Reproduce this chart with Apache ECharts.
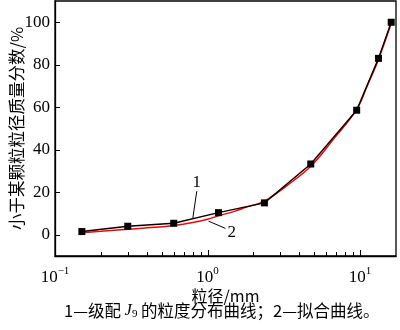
<!DOCTYPE html>
<html>
<head>
<meta charset="utf-8">
<script src="https://cdn.jsdelivr.net/npm/echarts@6/dist/echarts.min.js"></script>
<style>
  html, body { margin: 0; padding: 0; background: #fff; }
  #chart { width: 400px; height: 330px; }
</style>
</head>
<body>
<div id="chart"></div>
<script>
// Sieve sizes (mm) and cumulative passing (%) for gradation J9
const sieveSizes = [0.15, 0.3, 0.6, 1.18, 2.36, 4.75, 9.5, 13.2, 16];
const passing = [1.5, 4.0, 5.4, 10.4, 15.0, 33.3, 58.6, 83.0, 100];

// Fitted curve, sampled along the size range
const fitSizes = [0.15, 0.2, 0.3, 0.45, 0.6, 0.8, 1.0, 1.18, 1.5, 1.8, 2.36, 3.3, 4.75, 6.7, 9.5, 11.2, 13.2, 16];
const fitValues = [0.9, 1.6, 2.6, 3.5, 4.4, 5.8, 7.3, 8.9, 11.0, 13.0, 15.8, 23.0, 32.2, 45.0, 59.0, 70.5, 82.5, 99.5];

// Axis ranges and ticks
const xMin = 0.1, xMax = 17.2;
const yMin = -10, yMax = 110;
const xMajorTicks = [0.1, 1, 10];
const xMinorTicks = [0.2, 0.3, 0.4, 0.5, 0.6, 0.7, 0.8, 0.9, 2, 3, 4, 5, 6, 7, 8, 9];
const yTicks = [0, 20, 40, 60, 80, 100];

// Curve callouts: label text, label anchor, leader start, leader end (data coords)
const callouts = [
  { text: '1', at: [0.85, 24.5], from: [0.85, 20.5], to: [0.80, 7.6] },
  { text: '2', at: [1.44, 1.2], from: [1.31, 3.0], to: [1.015, 6.4] }
];

const serif = '"Liberation Serif", "Times New Roman", "Noto Sans CJK SC", serif';
const cjk = '"Noto Sans CJK SC", "Liberation Serif", serif';

const chart = echarts.init(document.getElementById('chart'), null, { renderer: 'canvas' });

const zip = (xs, ys) => xs.map((x, i) => [x, ys[i]]);

chart.setOption({
  animation: false,
  backgroundColor: '#fff',
  grid: {
    left: 55, right: 4, top: 1, bottom: 74,
    containLabel: false, outerBoundsMode: 'none',
    show: true, borderColor: '#000', borderWidth: 1.3, backgroundColor: 'transparent'
  },
  xAxis: {
    type: 'log', logBase: 10, min: xMin, max: xMax,
    name: '粒径/mm', nameLocation: 'middle', nameGap: 32, nameMoveOverlap: false,
    nameTextStyle: { fontFamily: cjk, fontSize: 16, color: '#000' },
    axisLine: { show: true, onZero: false, lineStyle: { color: '#000', width: 1.3 } },
    axisTick: { show: false },
    minorTick: { show: false },
    splitLine: { show: false },
    axisLabel: {
      customValues: xMajorTicks,
      margin: 10,
      formatter: v => {
        const e = Math.round(Math.log10(v));
        return '{b|10}{s|' + (e < 0 ? '\u2212' + (-e) : e) + '}';
      },
      rich: {
        b: { fontFamily: serif, fontSize: 17, color: '#000', verticalAlign: 'bottom', lineHeight: 20 },
        s: { fontFamily: serif, fontSize: 11, color: '#000', verticalAlign: 'top', lineHeight: 20, padding: [0, 0, 8, 0] }
      }
    }
  },
  yAxis: {
    type: 'value', min: yMin, max: yMax,
    name: '小于某颗粒粒径质量分数/%', nameLocation: 'middle', nameGap: 30, nameRotate: 90, nameMoveOverlap: false,
    nameTextStyle: { fontFamily: cjk, fontSize: 16.5, color: '#000' },
    axisLine: { show: true, onZero: false, lineStyle: { color: '#000', width: 1.3 } },
    axisTick: { show: false },
    axisLabel: { customValues: yTicks, margin: 5, fontFamily: serif, fontSize: 17, color: '#000' },
    splitLine: { show: false }
  },
  series: [
    {
      name: '2', type: 'line',
      data: zip(fitSizes, fitValues),
      smooth: 0.4, showSymbol: false, symbol: 'none',
      lineStyle: { color: '#ff0000', width: 1.5 }, z: 2
    },
    {
      name: '1', type: 'line',
      data: zip(sieveSizes, passing),
      symbol: 'rect', symbolSize: 7,
      itemStyle: { color: '#000' },
      lineStyle: { color: '#000', width: 1.4 }, z: 3
    }
  ],
  graphic: []
});

// Inward ticks, callout leaders/numbers and caption, placed from data coordinates
function placeOverlays() {
  const toPx = p => chart.convertToPixel({ xAxisIndex: 0, yAxisIndex: 0 }, p);
  const crisp = v => Math.round(v) + 0.5;
  const elements = [];
  const origin = toPx([xMin, yMin]);
  const tick = (x1, y1, x2, y2) => elements.push({
    type: 'line', silent: true, z: 10,
    shape: { x1, y1, x2, y2 },
    style: { stroke: '#000', lineWidth: 1 }
  });
  xMajorTicks.forEach(v => { const x = crisp(toPx([v, yMin])[0]); tick(x, origin[1], x, origin[1] - 6); });
  xMinorTicks.forEach(v => { const x = crisp(toPx([v, yMin])[0]); tick(x, origin[1], x, origin[1] - 4); });
  yTicks.forEach(v => { const y = crisp(toPx([xMin, v])[1]); tick(origin[0], y, origin[0] + 5, y); });

  callouts.forEach(c => {
    const a = toPx(c.from), b = toPx(c.to), t = toPx(c.at);
    elements.push({
      type: 'line', silent: true,
      shape: { x1: a[0], y1: a[1], x2: b[0], y2: b[1] },
      style: { stroke: '#000', lineWidth: 1 }
    });
    elements.push({
      type: 'text', silent: true, x: t[0], y: t[1],
      style: { text: c.text, fontFamily: serif, fontSize: 17, fill: '#000', align: 'center', verticalAlign: 'middle' }
    });
  });
  // Caption under the axis title
  elements.push({
    type: 'text', silent: true, left: 64, top: 302,
    style: {
      text: '{t|1—级配 }{j|J}{sub|9}{t| 的粒度分布曲线；2—拟合曲线。}',
      rich: {
        t: { fontFamily: cjk, fontSize: 16.5, fill: '#000' },
        j: { fontFamily: serif, fontSize: 16.5, fontStyle: 'italic', fill: '#000' },
        sub: { fontFamily: serif, fontSize: 11, fill: '#000', padding: [7, 0, 0, 0] }
      }
    }
  });
  chart.setOption({ graphic: elements });
}
placeOverlays();
</script>
</body>
</html>
